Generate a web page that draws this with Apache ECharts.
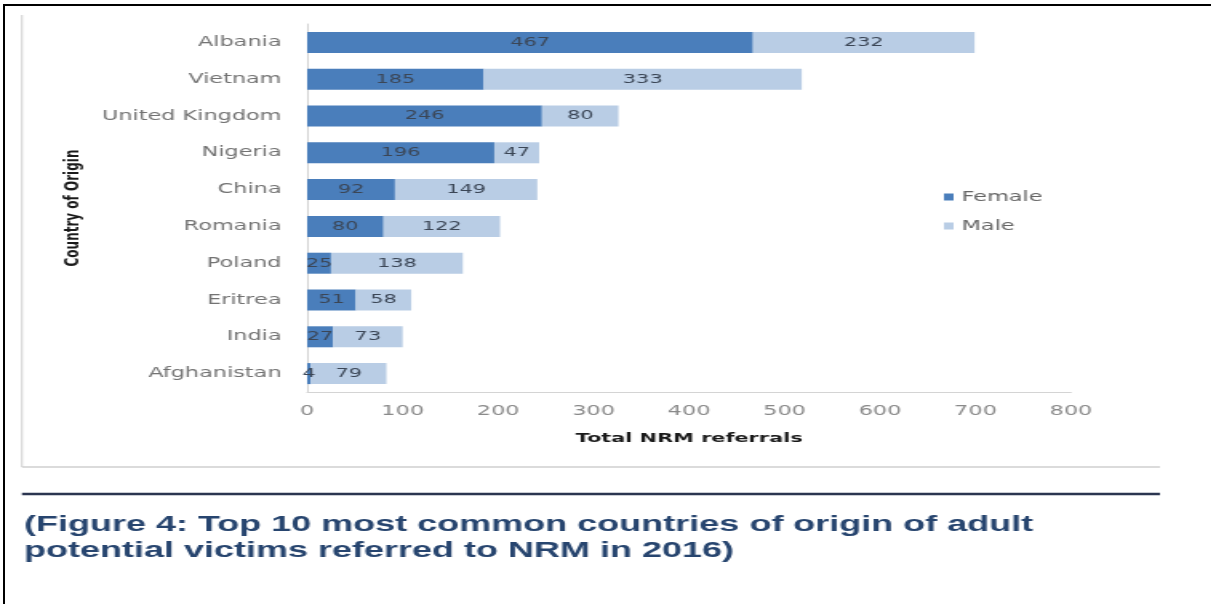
<!DOCTYPE html>
<html>
<head>
<meta charset="utf-8">
<script src="https://cdn.jsdelivr.net/npm/echarts@6/dist/echarts.min.js"></script>
<style>
html,body{margin:0;padding:0;background:#fff;overflow:hidden;width:1211px;height:604px;}
#wrap{position:absolute;left:0;top:0;width:757px;height:604px;transform:scaleX(1.6);transform-origin:0 0;}
#frameTop{position:absolute;left:3px;top:4px;width:1208px;height:2px;background:#000;}
#frameLeft{position:absolute;left:3px;top:4px;width:2px;height:600px;background:#000;}
</style>
</head>
<body>
<div id="wrap"></div>
<div id="frameTop"></div>
<div id="frameLeft"></div>
<script>
const categories = ['Albania','Vietnam','United Kingdom','Nigeria','China','Romania','Poland','Eritrea','India','Afghanistan'];
const female = [467,185,246,196,92,80,25,51,27,4];
const male = [232,333,80,47,149,122,138,58,73,79];
const seriesNames = ['Female','Male'];
const xTicks = {min:0, max:800, interval:100};
const xTitle = 'Total NRM referrals';
const yTitle = 'Country of Origin';
const captionLines = ['(Figure 4: Top 10 most common countries of origin of adult','potential victims referred to NRM in 2016)'];

const chart = echarts.init(document.getElementById('wrap'), null, {renderer:'canvas'});
const labelStyle = {show:true, position:'inside', color:'#3b4656', fontSize:13, fontFamily:'DejaVu Sans'};
chart.setOption({
  animation:false,
  backgroundColor:'#fff',
  grid:{left:192, right:87.6, top:24, height:368, containLabel:false},
  legend:{
    orient:'vertical', left:585, top:185, itemWidth:6, itemHeight:7, itemGap:15,
    icon:'rect',
    textStyle:{color:'#666666', fontSize:14, fontFamily:'DejaVu Sans'},
    data:seriesNames
  },
  xAxis:{
    type:'value', min:xTicks.min, max:xTicks.max, interval:xTicks.interval,
    axisLine:{show:true, lineStyle:{color:'#d4d4d4', width:1}},
    axisTick:{show:false}, splitLine:{show:false},
    axisLabel:{color:'#8a8a8a', fontSize:14, fontFamily:'DejaVu Sans', margin:12},
    name:xTitle, nameLocation:'middle', nameGap:40,
    nameTextStyle:{color:'#1a1a1a', fontWeight:'bold', fontSize:13, fontFamily:'DejaVu Sans'}
  },
  yAxis:{
    type:'category', data:categories, inverse:true,
    axisLine:{show:true, lineStyle:{color:'#d4d4d4', width:1}},
    axisTick:{show:false},
    axisLabel:{color:'#737373', fontSize:14, fontFamily:'DejaVu Sans', margin:16},
    name:yTitle, nameLocation:'middle', nameGap:140, nameRotate:90,
    nameTextStyle:{color:'#1a1a1a', fontWeight:'bold', fontSize:12, fontFamily:'DejaVu Sans'}
  },
  series:[
    {name:seriesNames[0], type:'bar', stack:'t', data:female, barWidth:21,
     itemStyle:{color:'#4a7ebb'}, label:labelStyle},
    {name:seriesNames[1], type:'bar', stack:'t', data:male, barWidth:21,
     itemStyle:{color:'#b9cde5'}, label:labelStyle}
  ],
  graphic:[
    {type:'line', silent:true, shape:{x1:13.75,y1:15,x2:13.75,y2:467}, style:{stroke:'#cfcfcf', lineWidth:1}},
    {type:'line', silent:true, shape:{x1:13.75,y1:467,x2:725,y2:467}, style:{stroke:'#cfcfcf', lineWidth:1.5}},
    {type:'line', silent:true, shape:{x1:13.75,y1:494,x2:725,y2:494}, style:{stroke:'#2b3550', lineWidth:2.5}},
    {type:'text', silent:true, left:15, top:513, style:{text:captionLines[0], fill:'#27456f', font:'bold 22.5px "Liberation Sans", Arial, sans-serif'}},
    {type:'text', silent:true, left:15, top:539, style:{text:captionLines[1], fill:'#27456f', font:'bold 22.5px "Liberation Sans", Arial, sans-serif'}}
  ]
});
</script>
</body>
</html>
